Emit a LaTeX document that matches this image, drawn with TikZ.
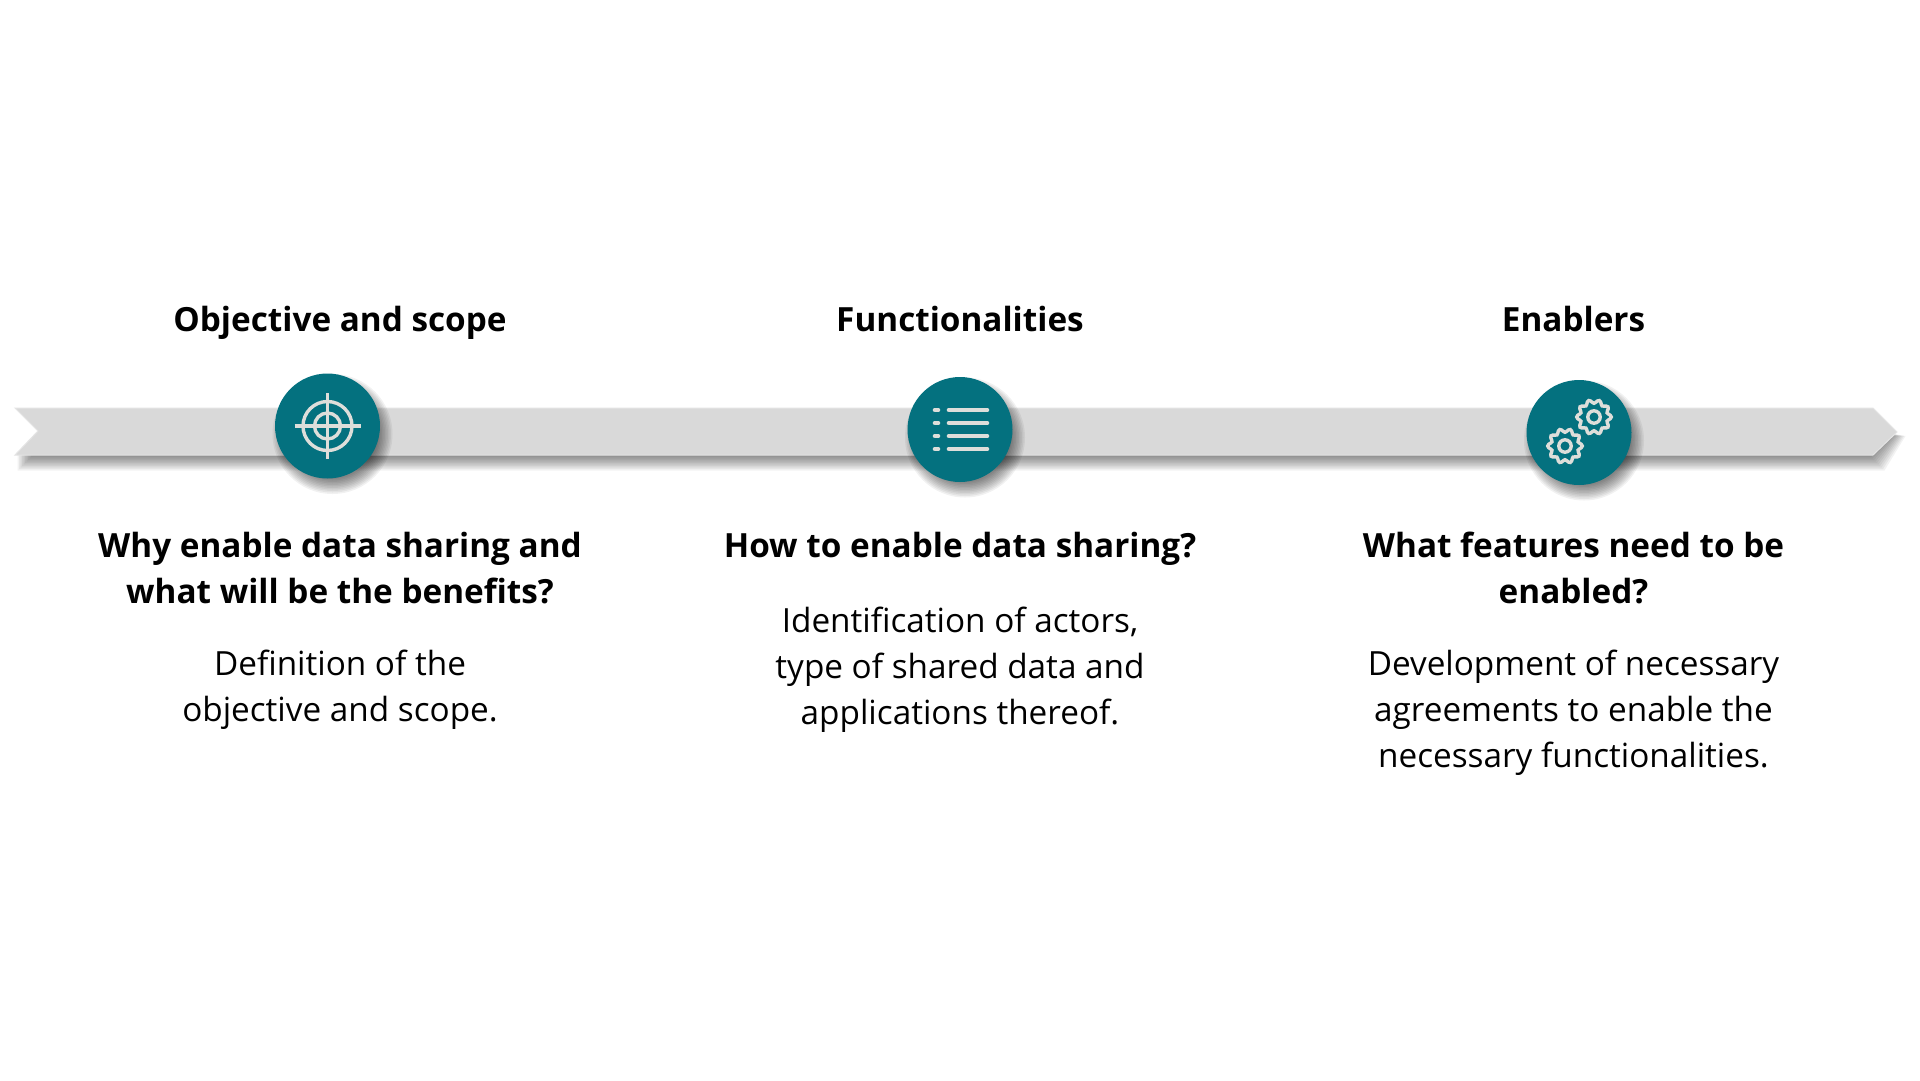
\documentclass[tikz,border=0pt]{standalone}
\usepackage{fontspec}
\usetikzlibrary{calc}
\setmainfont{Open Sans}
\definecolor{teal}{HTML}{04717F}
\definecolor{band}{HTML}{D9D9D9}
\definecolor{bandedge}{HTML}{E4E4E4}
\definecolor{icon}{HTML}{DEDEDA}
\newcommand{\bandshadow}{%
  \foreach \d in {-9,-7.5,...,10.5}{
    \fill[black,fill opacity=.05] (50,430) -- (1870,430)
      -- ({1895+\d},436) -- ({1874+\d},{460+\d}) -- ({28-\d},{460+\d}) -- ({28-\d},452) -- (50,440) -- cycle;
  }%
}
\newcommand{\discshadow}[1]{%
  \foreach \r in {45,46.5,...,60}{
    \fill[black,fill opacity=.055] ($(#1)+(5,8)$) circle[radius=\r];
  }%
}
\tikzset{
  x=1pt,y=-1pt,
  head/.style={font=\fontsize{33.3}{33.3}\selectfont\bfseries,anchor=base,text=black,inner sep=0pt},
  body/.style={font=\fontsize{33.3}{33.3}\selectfont,anchor=base,text=black,inner sep=0pt},
  disc/.style={circle,fill=teal,draw=none,minimum size=105pt,inner sep=0pt},
  ic/.style={draw=icon,line width=3.4pt},
  rowline/.style={draw=icon,line width=4.6pt,line cap=round}
}
\begin{document}
\begin{tikzpicture}
\useasboundingbox (0,0) rectangle (1920,1080);
\fill[white] (0,0) rectangle (1920,1080);
% band
\bandshadow
\fill[band,draw=bandedge,line width=1pt] (15,408) -- (1873,408) -- (1897,432) -- (1873,455) -- (15,455) -- (38,431) -- cycle;
% discs
\coordinate (c1) at (327.5,426);
\coordinate (c2) at (960,429.5);
\coordinate (c3) at (1579,432.5);
\discshadow{c1}
\discshadow{c2}
\discshadow{c3}
\node[disc] (d1) at (c1) {};
\node[disc] (d2) at (c2) {};
\node[disc] (d3) at (c3) {};
% target icon
\draw[ic] (d1.center) circle[radius=24.5];
\draw[ic] (d1.center) circle[radius=13];
\draw[ic] ($(d1.center)+(-33,0)$) -- ($(d1.center)+(33,0)$);
\draw[ic] ($(d1.center)+(0,-33)$) -- ($(d1.center)+(0,33)$);
% list icon
\foreach \yy in {-19.5,-6.5,6.5,19.5}{
  \draw[rowline] ($(d2.center)+(-25,\yy)$) -- ($(d2.center)+(-22,\yy)$);
  \draw[rowline] ($(d2.center)+(-11,\yy)$) -- ($(d2.center)+(27,\yy)$);
}
% gears
\foreach \gx/\gy in {15/-15.5,-14/13.5}{
  \begin{scope}[shift={($(d3.center)+(\gx,\gy)$)}]
    \draw[ic] plot[smooth cycle,samples=60,domain=0:354,variable=\t] ({(15.5+1.8*cos(10*\t))*cos(\t)},{(15.5+1.8*cos(10*\t))*sin(\t)});
    \draw[ic] (0,0) circle[radius=6.2];
  \end{scope}
}
% titles
\node[head] (t1) at (340,331.2) {Objective and scope};
\node[head] (t2) at (960,331.2) {Functionalities};
\node[head] (t3) at (1573.5,331.2) {Enablers};
% questions
\node[head] (q1a) at (340,557.2) {Why enable data sharing and};
\node[head] (q1b) at (340,603.2) {what will be the benefits?};
\node[head] (q2a) at (960,557.2) {How to enable data sharing?};
\node[head] (q3a) at (1573.5,557.2) {What features need to be};
\node[head] (q3b) at (1573.5,603.2) {enabled?};
% bodies
\node[body] (b1a) at (340,675.2) {Definition of the};
\node[body] (b1b) at (340,721.2) {objective and scope.};
\node[body] (b2a) at (960,632.2) {Identification of actors,};
\node[body] (b2b) at (960,678.2) {type of shared data and};
\node[body] (b2c) at (960,724.2) {applications thereof.};
\node[body] (b3a) at (1573.5,675.2) {Development of necessary};
\node[body] (b3b) at (1573.5,721.2) {agreements to enable the};
\node[body] (b3c) at (1573.5,767.2) {necessary functionalities.};
\end{tikzpicture}
\end{document}
